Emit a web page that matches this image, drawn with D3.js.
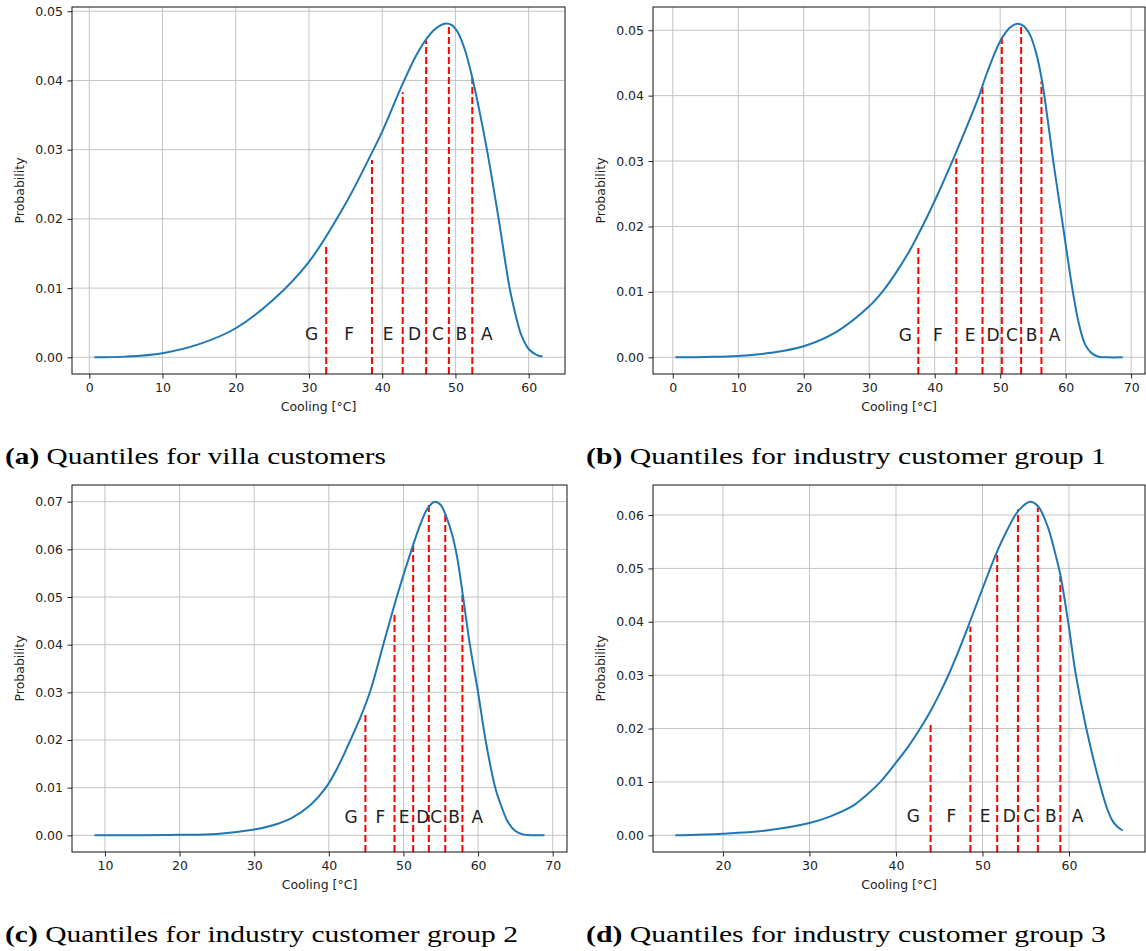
<!DOCTYPE html>
<html lang="en">
<head>
    <meta charset="UTF-8">
    <title>Cooling quantiles</title>
    <script src="https://cdnjs.cloudflare.com/ajax/libs/d3/7.8.5/d3.min.js"></script>
    <style>
        * {
            margin: 0;
            padding: 0;
            box-sizing: border-box;
        }

        body {
            background-color: #fff;
            width: 1146px;
            height: 951px;
            overflow: hidden;
        }

        svg {
            display: block;
        }

        .tick text, .axis-label, .grade {
            font-family: 'DejaVu Sans', sans-serif;
            fill: #222;
        }

        .tick text {
            font-size: 12.5px;
        }

        .caption {
            font-family: 'Liberation Serif', serif;
            font-size: 23px;
            fill: #000;
        }
    </style>
</head>
<body>
    <div id="chart"></div>

    <script>
        // Values: [cooling, probability]
        const grades = ['G', 'F', 'E', 'D', 'C', 'B', 'A'];
        const gradeBaseline = 0.0025;

        const villaCurve = [
            [0.7, 0], [5, 0.0001], [10, 0.0006], [15, 0.0019], [20, 0.0042], [25, 0.0082],
            [30, 0.0138], [35, 0.0222], [38.8, 0.030], [40, 0.0326], [43.0, 0.040], [45, 0.0443],
            [47, 0.0472], [48.5, 0.0482], [49.5, 0.0480], [50.3, 0.0470], [51.3, 0.0444], [52.3, 0.0404],
            [53.2, 0.0360], [54.3, 0.030], [55.9, 0.020], [57.4, 0.010], [58.2, 0.0062], [59, 0.0032],
            [60, 0.0012], [61, 0.0004], [61.9, 0.0001]
        ];
        const villaQuantiles = [32.35, 38.6, 42.8, 46.0, 49.1, 52.3];
        const villaQuantileTops = [0.0161, 0.0285, 0.0383, 0.0458, 0.0478, 0.0404];
        const villaGradeX = [30.35, 35.5, 40.8, 44.4, 47.6, 50.8, 54.3];
        const villaXTicks = [0, 10, 20, 30, 40, 50, 60];
        const villaYTicks = [0, 0.01, 0.02, 0.03, 0.04, 0.05];

        const group1Curve = [
            [0.4, 0], [5, 0.00005], [10, 0.0002], [15, 0.0007], [20, 0.0017], [25, 0.0039],
            [30, 0.0078], [32, 0.010], [34, 0.0128], [36, 0.0160], [37.5, 0.0188], [39, 0.0218],
            [40.5, 0.0250], [42.7, 0.030], [45, 0.0355], [46.6, 0.0395], [48, 0.0435], [50, 0.0483],
            [51.5, 0.0504], [52.6, 0.0510], [53.5, 0.0507], [54.5, 0.0494], [55.5, 0.0465], [56.4, 0.0422],
            [57.3, 0.036], [58.1, 0.030], [59.6, 0.020], [61.1, 0.010], [62, 0.0052], [63, 0.0019],
            [64, 0.0006], [65, 0.0001], [66.5, 0], [68.7, 0]
        ];
        const group1Quantiles = [37.5, 43.3, 47.3, 50.25, 53.2, 56.3];
        const group1QuantileTops = [0.0167, 0.0304, 0.0416, 0.0489, 0.0506, 0.0422];
        const group1GradeX = [35.5, 40.5, 45.4, 48.9, 51.8, 54.8, 58.3];
        const group1XTicks = [0, 10, 20, 30, 40, 50, 60, 70];
        const group1YTicks = [0, 0.01, 0.02, 0.03, 0.04, 0.05];

        const group2Curve = [
            [8.6, 0], [15, 0.00002], [20, 0.0001], [25, 0.0003], [30, 0.0012], [32.5, 0.0021],
            [35, 0.0036], [37.5, 0.0063], [39.6, 0.010], [41.2, 0.0143], [42.9, 0.020], [44.3, 0.0250],
            [45.6, 0.0305], [47.3, 0.040], [49.1, 0.050], [51.1, 0.060], [52.2, 0.065], [53.2, 0.0685],
            [54.2, 0.070], [55, 0.0693], [55.7, 0.0670], [56.5, 0.0632], [57.2, 0.0583], [57.9, 0.051],
            [58.9, 0.040], [60, 0.030], [61, 0.020], [62.3, 0.010], [63, 0.0066], [64, 0.0028],
            [65, 0.0009], [66, 0.0002], [67, 0.00003], [68.9, 0]
        ];
        const group2Quantiles = [44.9, 48.8, 51.3, 53.4, 55.6, 57.9];
        const group2QuantileTops = [0.0254, 0.0464, 0.0614, 0.0693, 0.0672, 0.0510];
        const group2GradeX = [43.0, 46.9, 50.1, 52.6, 54.4, 56.8, 59.9];
        const group2XTicks = [10, 20, 30, 40, 50, 60, 70];
        const group2YTicks = [0, 0.01, 0.02, 0.03, 0.04, 0.05, 0.06, 0.07];

        const group3Curve = [
            [14.5, 0], [20, 0.0003], [25, 0.0009], [30, 0.0023], [32.5, 0.0036], [35, 0.0055],
            [36.5, 0.0074], [38.2, 0.010], [40, 0.0136], [41.5, 0.0168], [42.8, 0.020], [44, 0.0233],
            [45, 0.0264], [46, 0.0298], [47.3, 0.0348], [48.5, 0.0398], [50.8, 0.0496], [51.7, 0.0532],
            [52.8, 0.0570], [54.1, 0.0607], [55.5, 0.0625], [56.4, 0.0617], [57.5, 0.0580], [58.3, 0.0535],
            [59, 0.0488], [59.9, 0.040], [60.8, 0.030], [62, 0.020], [63.5, 0.010], [64.3, 0.0055],
            [65, 0.0028], [65.6, 0.0016], [66.2, 0.0009]
        ];
        const group3Quantiles = [44.0, 48.6, 51.7, 54.1, 56.4, 59.0];
        const group3QuantileTops = [0.0210, 0.0391, 0.0528, 0.0611, 0.0614, 0.0486];
        const group3GradeX = [42.0, 46.4, 50.3, 53.1, 55.4, 57.9, 61.0];
        const group3XTicks = [20, 30, 40, 50, 60];
        const group3YTicks = [0, 0.01, 0.02, 0.03, 0.04, 0.05, 0.06];

        const captionTags = ['(a)', '(b)', '(c)', '(d)'];
        const captionTexts = [
            'Quantiles for villa customers',
            'Quantiles for industry customer group 1',
            'Quantiles for industry customer group 2',
            'Quantiles for industry customer group 3'
        ];

        // layout of the four axes boxes (pixels)
        const panels = [
            { curve: villaCurve, q: villaQuantiles, tops: villaQuantileTops, gx: villaGradeX, xt: villaXTicks, yt: villaYTicks,
              box: { left: 72, right: 565, top: 7, bottom: 374 }, cap: { x: 5, y: 464, len: 381 } },
            { curve: group1Curve, q: group1Quantiles, tops: group1QuantileTops, gx: group1GradeX, xt: group1XTicks, yt: group1YTicks,
              box: { left: 653, right: 1145, top: 7, bottom: 374 }, cap: { x: 586, y: 464, len: 520 } },
            { curve: group2Curve, q: group2Quantiles, tops: group2QuantileTops, gx: group2GradeX, xt: group2XTicks, yt: group2YTicks,
              box: { left: 72, right: 567, top: 485, bottom: 852 }, cap: { x: 5, y: 942, len: 513 } },
            { curve: group3Curve, q: group3Quantiles, tops: group3QuantileTops, gx: group3GradeX, xt: group3XTicks, yt: group3YTicks,
              box: { left: 653, right: 1145, top: 485, bottom: 852 }, cap: { x: 586, y: 942, len: 520 } }
        ];

        const svg = d3.select('#chart')
            .append('svg')
            .attr('width', 1146)
            .attr('height', 951);

        // matplotlib style 5% margins
        const pad = ([a, b]) => {
            const m = (b - a) * 0.05;
            return [a - m, b + m];
        };

        panels.forEach((p, i) => {
            const b = p.box;
            const x = d3.scaleLinear()
                .domain(pad(d3.extent(p.curve, d => d[0])))
                .range([b.left, b.right]);
            const y = d3.scaleLinear()
                .domain(pad(d3.extent(p.curve, d => d[1])))
                .range([b.bottom, b.top]);

            const g = svg.append('g');

            // grid
            g.append('g').selectAll('line')
                .data(p.xt)
                .enter()
                .append('line')
                .attr('x1', d => x(d)).attr('x2', d => x(d))
                .attr('y1', b.top).attr('y2', b.bottom)
                .attr('stroke', '#c4c4c4')
                .attr('stroke-width', 1);

            g.append('g').selectAll('line')
                .data(p.yt)
                .enter()
                .append('line')
                .attr('x1', b.left).attr('x2', b.right)
                .attr('y1', d => y(d)).attr('y2', d => y(d))
                .attr('stroke', '#c4c4c4')
                .attr('stroke-width', 1);

            // axes
            const xAxis = g.append('g')
                .attr('transform', `translate(0,${b.bottom})`)
                .call(d3.axisBottom(x).tickValues(p.xt).tickFormat(d3.format('d'))
                    .tickSize(4.5).tickPadding(5).tickSizeOuter(0));
            const yAxis = g.append('g')
                .attr('transform', `translate(${b.left},0)`)
                .call(d3.axisLeft(y).tickValues(p.yt).tickFormat(d3.format('.2f'))
                    .tickSize(4.5).tickPadding(4.5).tickSizeOuter(0));
            [xAxis, yAxis].forEach(a => {
                a.select('.domain').remove();
                a.selectAll('.tick line').attr('stroke', '#222').attr('stroke-width', 1);
                a.attr('font-size', null).attr('font-family', null);
            });

            // quantile lines
            g.append('g').selectAll('line')
                .data(p.q.map((v, k) => [v, p.tops[k]]))
                .enter()
                .append('line')
                .attr('x1', d => x(d[0])).attr('x2', d => x(d[0]))
                .attr('y1', b.bottom).attr('y2', d => y(d[1]))
                .attr('stroke', '#ff0000')
                .attr('stroke-width', 2)
                .attr('stroke-dasharray', '7,3');

            // distribution curve
            const line = d3.line()
                .x(d => x(d[0]))
                .y(d => y(d[1]))
                .curve(d3.curveCatmullRom.alpha(0.5));
            g.append('path')
                .datum(p.curve)
                .attr('d', line)
                .attr('fill', 'none')
                .attr('stroke', '#1f77b4')
                .attr('stroke-width', 2);

            // grade letters
            g.append('g').selectAll('text')
                .data(grades.map((t, k) => [t, p.gx[k]]))
                .enter()
                .append('text')
                .attr('class', 'grade')
                .attr('x', d => x(d[1]))
                .attr('y', y(gradeBaseline))
                .attr('text-anchor', 'middle')
                .attr('font-size', 17)
                .text(d => d[0]);

            // frame
            g.append('rect')
                .attr('x', b.left).attr('y', b.top)
                .attr('width', b.right - b.left)
                .attr('height', b.bottom - b.top)
                .attr('fill', 'none')
                .attr('stroke', '#111')
                .attr('stroke-width', 1);

            // axis labels
            g.append('text')
                .attr('class', 'axis-label')
                .attr('x', (b.left + b.right) / 2)
                .attr('y', b.bottom + 37)
                .attr('text-anchor', 'middle')
                .attr('font-size', 12.5)
                .text('Cooling [°C]');
            g.append('text')
                .attr('class', 'axis-label')
                .attr('transform', `translate(${b.left - 48},${(b.top + b.bottom) / 2}) rotate(-90)`)
                .attr('text-anchor', 'middle')
                .attr('font-size', 12.5)
                .text('Probability');

            // caption
            const cap = svg.append('text')
                .attr('class', 'caption')
                .attr('x', p.cap.x)
                .attr('y', p.cap.y)
                .attr('textLength', p.cap.len)
                .attr('lengthAdjust', 'spacingAndGlyphs');
            cap.append('tspan').attr('font-weight', 'bold').text(captionTags[i]);
            cap.append('tspan').text(' ' + captionTexts[i]);
        });
    </script>
</body>
</html>
